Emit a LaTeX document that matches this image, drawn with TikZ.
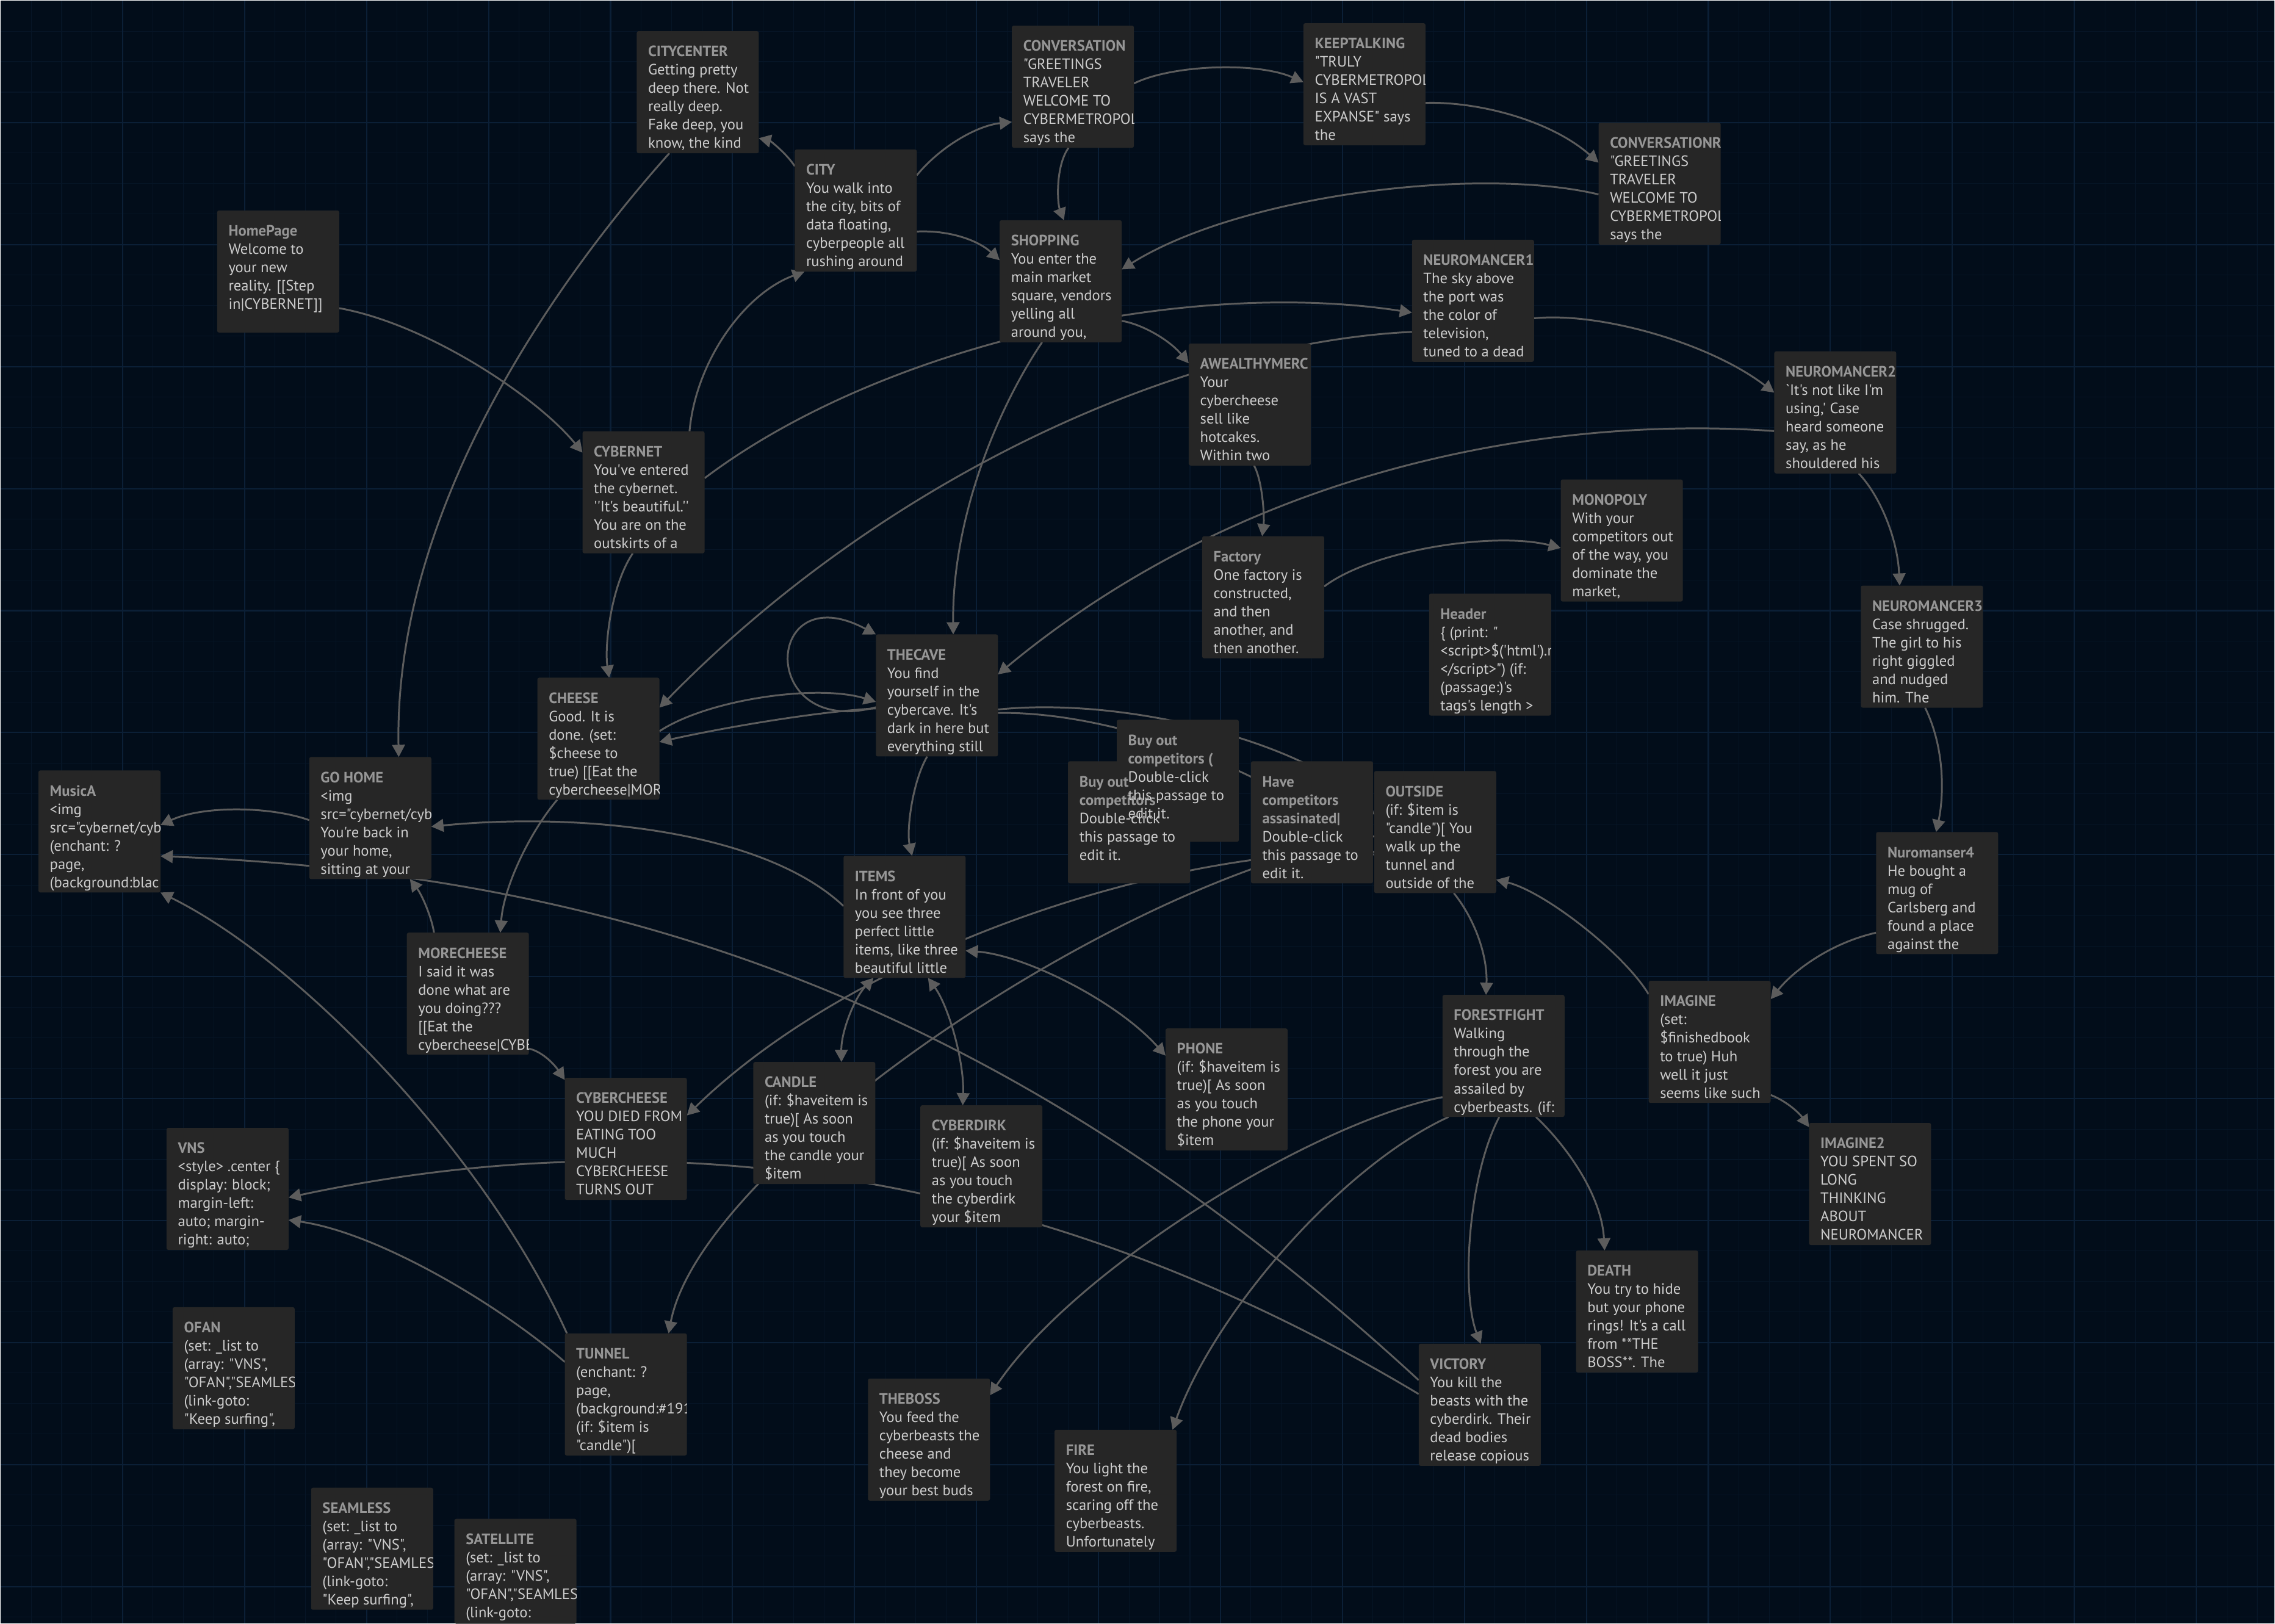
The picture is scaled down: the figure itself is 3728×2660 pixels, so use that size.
\documentclass[tikz,border=0pt]{standalone}
\usepackage{fontspec}
\newfontfamily\pf{PT Sans}
\usetikzlibrary{arrows.meta,calc}
\definecolor{bgc}{RGB}{2,13,26}
\definecolor{gmin}{RGB}{6,21,38}
\definecolor{gmaj}{RGB}{11,31,54}
\definecolor{boxc}{RGB}{38,38,38}
\definecolor{ttl}{RGB}{150,150,150}
\definecolor{bodyc}{RGB}{205,205,205}
\definecolor{edgec}{RGB}{92,92,92}
\pgfdeclarelayer{bg}\pgfdeclarelayer{edges}\pgfsetlayers{bg,edges,main}
\newcommand{\T}[1]{{\color{ttl}\bfseries #1}}
\newcommand{\psg}[3]{\node[pbox] (#1) at (#2,#3) {};}
\newcommand{\ptx}[2]{\begin{scope}\clip (#1.south west) rectangle (#1.north east);\node[ptxt] (#1-t) at ($(#1.north west)+(18,20)$) {\rule{0pt}{6pt}#2};\end{scope}}
\tikzset{
  pbox/.style={anchor=north west, fill=boxc, rounded corners=0.03cm, minimum width=2cm, minimum height=2cm, inner sep=0pt, outer sep=0pt},
  ptxt/.style={anchor=north west, inner sep=0pt, align=left, text=bodyc, font=\pf\fontsize{7pt}{8.54pt}\selectfont},
  link/.style={draw=edgec, line width=0.85pt, -{Triangle[length=0.2cm,width=0.21cm]}},
  dlink/.style={draw=edgec, line width=0.85pt, {Triangle[length=0.2cm,width=0.21cm]}-{Triangle[length=0.2cm,width=0.21cm]}}
}
\begin{document}
\begin{tikzpicture}[x=0.01cm,y=-0.01cm]
\begin{pgfonlayer}{bg}
\fill[bgc] (0,0) rectangle (3728,2660);
\foreach \i in {50,100,...,3700} \draw[gmin, line width=0.3pt] (\i,0) -- (\i,2660);
\foreach \j in {50,100,...,2650} \draw[gmin, line width=0.3pt] (0,\j) -- (3728,\j);
\foreach \i in {200,400,...,3600} \draw[gmaj, line width=0.6pt] (\i,0) -- (\i,2660);
\foreach \j in {200,400,...,2600} \draw[gmaj, line width=0.6pt] (0,\j) -- (3728,\j);
\end{pgfonlayer}
\useasboundingbox (0,0) rectangle (3728,2660);

% passages
\psg{HomePage}{355}{344}\ptx{HomePage}{\T{HomePage}\\Welcome to\\your new\\reality. [[Step\\in|CYBERNET]]}
\psg{CITYCENTER}{1043}{50}\ptx{CITYCENTER}{\T{CITYCENTER}\\Getting pretty\\deep there. Not\\really deep.\\Fake deep, you\\know, the kind}
\psg{CITY}{1302}{244}\ptx{CITY}{\T{CITY}\\You walk into\\the city, bits of\\data floating,\\cyberpeople all\\rushing around}
\psg{CONVERSATION}{1658}{41}\ptx{CONVERSATION}{\T{CONVERSATION}\\"GREETINGS\\TRAVELER\\WELCOME TO\\CYBERMETROPOL\\says the}
\psg{SHOPPING}{1638}{360}\ptx{SHOPPING}{\T{SHOPPING}\\You enter the\\main market\\square, vendors\\yelling all\\around you,}
\psg{KEEPTALKING}{2136}{37}\ptx{KEEPTALKING}{\T{KEEPTALKING}\\"TRULY\\CYBERMETROPOL\\IS A VAST\\EXPANSE" says\\the}
\psg{CONVR}{2620}{200}\ptx{CONVR}{\T{CONVERSATIONR}\\"GREETINGS\\TRAVELER\\WELCOME TO\\CYBERMETROPOL\\says the}
\psg{NEURO1}{2314}{392}\ptx{NEURO1}{\T{NEUROMANCER1}\\The sky above\\the port was\\the color of\\television,\\tuned to a dead}
\psg{AWM}{1948}{562}\ptx{AWM}{\T{AWEALTHYMERC}\\Your\\cybercheese\\sell like\\hotcakes.\\Within two}
\psg{NEURO2}{2908}{575}\ptx{NEURO2}{\T{NEUROMANCER2}\\`It's not like I'm\\using,' Case\\heard someone\\say, as he\\shouldered his}
\psg{CYBERNET}{954}{706}\ptx{CYBERNET}{\T{CYBERNET}\\You've entered\\the cybernet.\\''It's beautiful.''\\You are on the\\outskirts of a}
\psg{MONOPOLY}{2558}{785}\ptx{MONOPOLY}{\T{MONOPOLY}\\With your\\competitors out\\of the way, you\\dominate the\\market,}
\psg{Factory}{1970}{878}\ptx{Factory}{\T{Factory}\\One factory is\\constructed,\\and then\\another, and\\then another.}
\psg{Header}{2342}{972}\ptx{Header}{\T{Header}\\\{ (print: "\\<script>\$('html').r\\</script>") (if:\\(passage:)'s\\tags's length >}
\psg{NEURO3}{3050}{959}\ptx{NEURO3}{\T{NEUROMANCER3}\\Case shrugged.\\The girl to his\\right giggled\\and nudged\\him. The}
\psg{THECAVE}{1435}{1039}\ptx{THECAVE}{\T{THECAVE}\\You find\\yourself in the\\cybercave. It's\\dark in here but\\everything still}
\psg{CHEESE}{880}{1110}\ptx{CHEESE}{\T{CHEESE}\\Good. It is\\done. (set:\\\$cheese to\\true) [[Eat the\\cybercheese|MOR}
\psg{MusicA}{62}{1262}\ptx{MusicA}{\T{MusicA}\\<img\\src="cybernet/cyb\\(enchant: ?\\page,\\(background:blac}
\psg{GOHOME}{506}{1240}\ptx{GOHOME}{\T{GO HOME}\\<img\\src="cybernet/cyb\\You're back in\\your home,\\sitting at your}
\psg{BuyBack}{1750}{1247}
\psg{BuyFront}{1830}{1179}
\ptx{BuyBack}{\T{Buy out}\\\T{competitors}\\Double-click\\this passage to\\edit it.}
\ptx{BuyFront}{\T{Buy out}\\\T{competitors (}\\Double-click\\this passage to\\edit it.}
\psg{Have}{2050}{1247}\ptx{Have}{\T{Have}\\\T{competitors}\\\T{assasinated|}\\Double-click\\this passage to\\edit it.}
\psg{OUTSIDE}{2252}{1263}\ptx{OUTSIDE}{\T{OUTSIDE}\\(if: \$item is\\"candle")[ You\\walk up the\\tunnel and\\outside of the}
\psg{ITEMS}{1382}{1402}\ptx{ITEMS}{\T{ITEMS}\\In front of you\\you see three\\perfect little\\items, like three\\beautiful little}
\psg{NURO4}{3075}{1363}\ptx{NURO4}{\T{Nuromanser4}\\He bought a\\mug of\\Carlsberg and\\found a place\\against the}
\psg{MORECHEESE}{666}{1528}\ptx{MORECHEESE}{\T{MORECHEESE}\\I said it was\\done what are\\you doing???\\{}[[Eat the\\cybercheese|CYBE}
\psg{PHONE}{1910}{1685}\ptx{PHONE}{\T{PHONE}\\(if: \$haveitem is\\true)[ As soon\\as you touch\\the phone your\\\$item}
\psg{FF}{2364}{1630}\ptx{FF}{\T{FORESTFIGHT}\\Walking\\through the\\forest you are\\assailed by\\cyberbeasts. (if:}
\psg{IMAGINE}{2702}{1607}\ptx{IMAGINE}{\T{IMAGINE}\\(set:\\\$finishedbook\\to true) Huh\\well it just\\seems like such}
\psg{CYBERCHEESE}{925}{1766}\ptx{CYBERCHEESE}{\T{CYBERCHEESE}\\YOU DIED FROM\\EATING TOO\\MUCH\\CYBERCHEESE\\TURNS OUT}
\psg{CANDLE}{1234}{1740}\ptx{CANDLE}{\T{CANDLE}\\(if: \$haveitem is\\true)[ As soon\\as you touch\\the candle your\\\$item}
\psg{CYBERDIRK}{1508}{1811}\ptx{CYBERDIRK}{\T{CYBERDIRK}\\(if: \$haveitem is\\true)[ As soon\\as you touch\\the cyberdirk\\your \$item}
\psg{VNS}{272}{1848}\ptx{VNS}{\T{VNS}\\<style> .center \{\\display: block;\\margin-left:\\auto; margin-\\right: auto;}
\psg{IMAGINE2}{2965}{1840}\ptx{IMAGINE2}{\T{IMAGINE2}\\YOU SPENT SO\\LONG\\THINKING\\ABOUT\\NEUROMANCER}
\psg{DEATH}{2583}{2049}\ptx{DEATH}{\T{DEATH}\\You try to hide\\but your phone\\rings! It's a call\\from **THE\\BOSS**. The}
\psg{OFAN}{282}{2142}\ptx{OFAN}{\T{OFAN}\\(set: \_list to\\(array: "VNS",\\"OFAN","SEAMLES\\(link-goto:\\"Keep surfing",}
\psg{TUNNEL}{925}{2185}\ptx{TUNNEL}{\T{TUNNEL}\\(enchant: ?\\page,\\(background:\#191\\(if: \$item is\\"candle")[}
\psg{VICTORY}{2325}{2202}\ptx{VICTORY}{\T{VICTORY}\\You kill the\\beasts with the\\cyberdirk. Their\\dead bodies\\release copious}
\psg{THEBOSS}{1422}{2259}\ptx{THEBOSS}{\T{THEBOSS}\\You feed the\\cyberbeasts the\\cheese and\\they become\\your best buds}
\psg{FIRE}{1728}{2343}\ptx{FIRE}{\T{FIRE}\\You light the\\forest on fire,\\scaring off the\\cyberbeasts.\\Unfortunately}
\psg{SEAMLESS}{509}{2438}\ptx{SEAMLESS}{\T{SEAMLESS}\\(set: \_list to\\(array: "VNS",\\"OFAN","SEAMLES\\(link-goto:\\"Keep surfing",}
\node[pbox, minimum height=1.72cm] (SATELLITE) at (744,2489) {};
\ptx{SATELLITE}{\T{SATELLITE}\\(set: \_list to\\(array: "VNS",\\"OFAN","SEAMLES\\(link-goto:}

% links
\begin{pgfonlayer}{edges}
\draw[link] (HomePage.-31) .. controls (700,530) and (880,650) .. (CYBERNET.147);
\draw[link] (CITYCENTER.245) .. controls (900,470) and (645,840) .. (GOHOME.65);
\draw[link] (CYBERNET.53) .. controls (1140,590) and (1220,480) .. (CITY.230);
\draw[link] (CITY.144) .. controls (1288,250) and (1262,230) .. (CITYCENTER.-37);
\draw[link] (CITY.30) .. controls (1540,240) and (1600,205) .. (CONVERSATION.210);
\draw[link] (CITY.-19) .. controls (1560,376) and (1605,395) .. (SHOPPING.161);
\draw[link] (CONVERSATION.-94) .. controls (1730,270) and (1732,330) .. (SHOPPING.87);
\draw[link] (CONVERSATION.3) .. controls (1920,105) and (2060,100) .. (KEEPTALKING.178);
\draw[link] (KEEPTALKING.-17) .. controls (2420,165) and (2540,195) .. (CONVR.161);
\draw[link] (CONVR.190) .. controls (2420,270) and (2030,320) .. (SHOPPING.11);
\draw[link] (CYBERNET.13) .. controls (1450,560) and (1950,455) .. (NEURO1.191);
\draw[link] (SHOPPING.-33) .. controls (1870,530) and (1915,555) .. (AWM.146);
\draw[link] (NEURO1.-16) .. controls (2620,510) and (2800,560) .. (NEURO2.162);
\draw[link] (NEURO2.-69) .. controls (3080,810) and (3110,880) .. (NEURO3.110);
\draw[link] (NEURO3.-87) .. controls (3190,1230) and (3185,1310) .. (NURO4.91);
\draw[link] (NURO4.213) .. controls (3000,1545) and (2940,1590) .. (IMAGINE.35);
\draw[link] (IMAGINE.-41) .. controls (2930,1805) and (2950,1825) .. (IMAGINE2.137);
\draw[link] (IMAGINE.142) .. controls (2660,1560) and (2530,1460) .. (OUTSIDE.-38);
\draw[link] (OUTSIDE.-73) .. controls (2420,1510) and (2438,1570) .. (FF.106);
\draw[link] (FF.-62) .. controls (2570,1880) and (2625,1960) .. (DEATH.118);
\draw[link] (FF.-94) .. controls (2405,1930) and (2395,2120) .. (VICTORY.89);
\draw[link] (FF.228) .. controls (2200,1910) and (1990,2150) .. (FIRE.47);
\draw[link] (FF.214) .. controls (2150,1840) and (1760,2080) .. (THEBOSS.36);
\draw[link] (SHOPPING.-107) .. controls (1640,660) and (1560,840) .. (THECAVE.75);
\draw[link] (NEURO1.207) .. controls (1950,560) and (1460,770) .. (CHEESE.27);
\draw[link] (AWM.-86) .. controls (2070,790) and (2072,850) .. (Factory.91);
\draw[link] (Factory.10) .. controls (2250,900) and (2450,870) .. (MONOPOLY.187);
\draw[link] (NEURO2.197) .. controls (2550,680) and (2050,760) .. (THECAVE.19);
\draw[link] (CYBERNET.-100) .. controls (1000,960) and (990,1060) .. (CHEESE.80);
\draw[link] (CHEESE.7) .. controls (1160,1145) and (1340,1120) .. (THECAVE.186);
\draw[link] (THECAVE.192) .. controls (1330,1166) and (1170,1195) .. (CHEESE.-3);
\draw[link] (THECAVE.191) .. controls (1240,1210) and (1250,940) .. (THECAVE.north west);
\draw[link] (THECAVE.-99) .. controls (1495,1280) and (1485,1360) .. (ITEMS.83);
\draw[link] (THECAVE.-13) .. controls (1850,1140) and (2150,1220) .. (OUTSIDE.164);
\draw[link] (THECAVE.-16) .. controls (1800,1165) and (2050,1240) .. (OUTSIDE.201);
\draw[link] (OUTSIDE.198) .. controls (1900,1390) and (1400,1560) .. (CYBERCHEESE.21);
\draw[link] (OUTSIDE.184) .. controls (1850,1430) and (1150,1900) .. (TUNNEL.55);
\draw[link] (ITEMS.170) .. controls (1250,1360) and (950,1330) .. (GOHOME.-8.6);
\draw[link] (VICTORY.158) .. controls (1650,1640) and (1012,1433) .. (MusicA.-22);
\draw[link] (GOHOME.182) .. controls (440,1320) and (330,1320) .. (MusicA.6);
\draw[link] (CHEESE.236) .. controls (870,1360) and (825,1450) .. (MORECHEESE.62);
\draw[link] (MORECHEESE.119) .. controls (706,1500) and (690,1465) .. (GOHOME.-57);
\draw[link] (MORECHEESE.-42) .. controls (885,1722) and (905,1740) .. (CYBERCHEESE.136);
\draw[dlink] (ITEMS.-117) .. controls (1400,1635) and (1378,1690) .. (CANDLE.66);
\draw[dlink] (ITEMS.-69) .. controls (1555,1650) and (1580,1740) .. (CYBERDIRK.107);
\draw[dlink] (ITEMS.-29) .. controls (1680,1565) and (1830,1640) .. (PHONE.151);
\draw[link] (TUNNEL.152) .. controls (820,2140) and (620,2020) .. (VNS.-27);
\draw[link] (TUNNEL.134) .. controls (800,1900) and (500,1580) .. (MusicA.-45);
\draw[link] (VICTORY.170) .. controls (1600,1850) and (950,1860) .. (VNS.-8);
\end{pgfonlayer}
\end{tikzpicture}
\end{document}
